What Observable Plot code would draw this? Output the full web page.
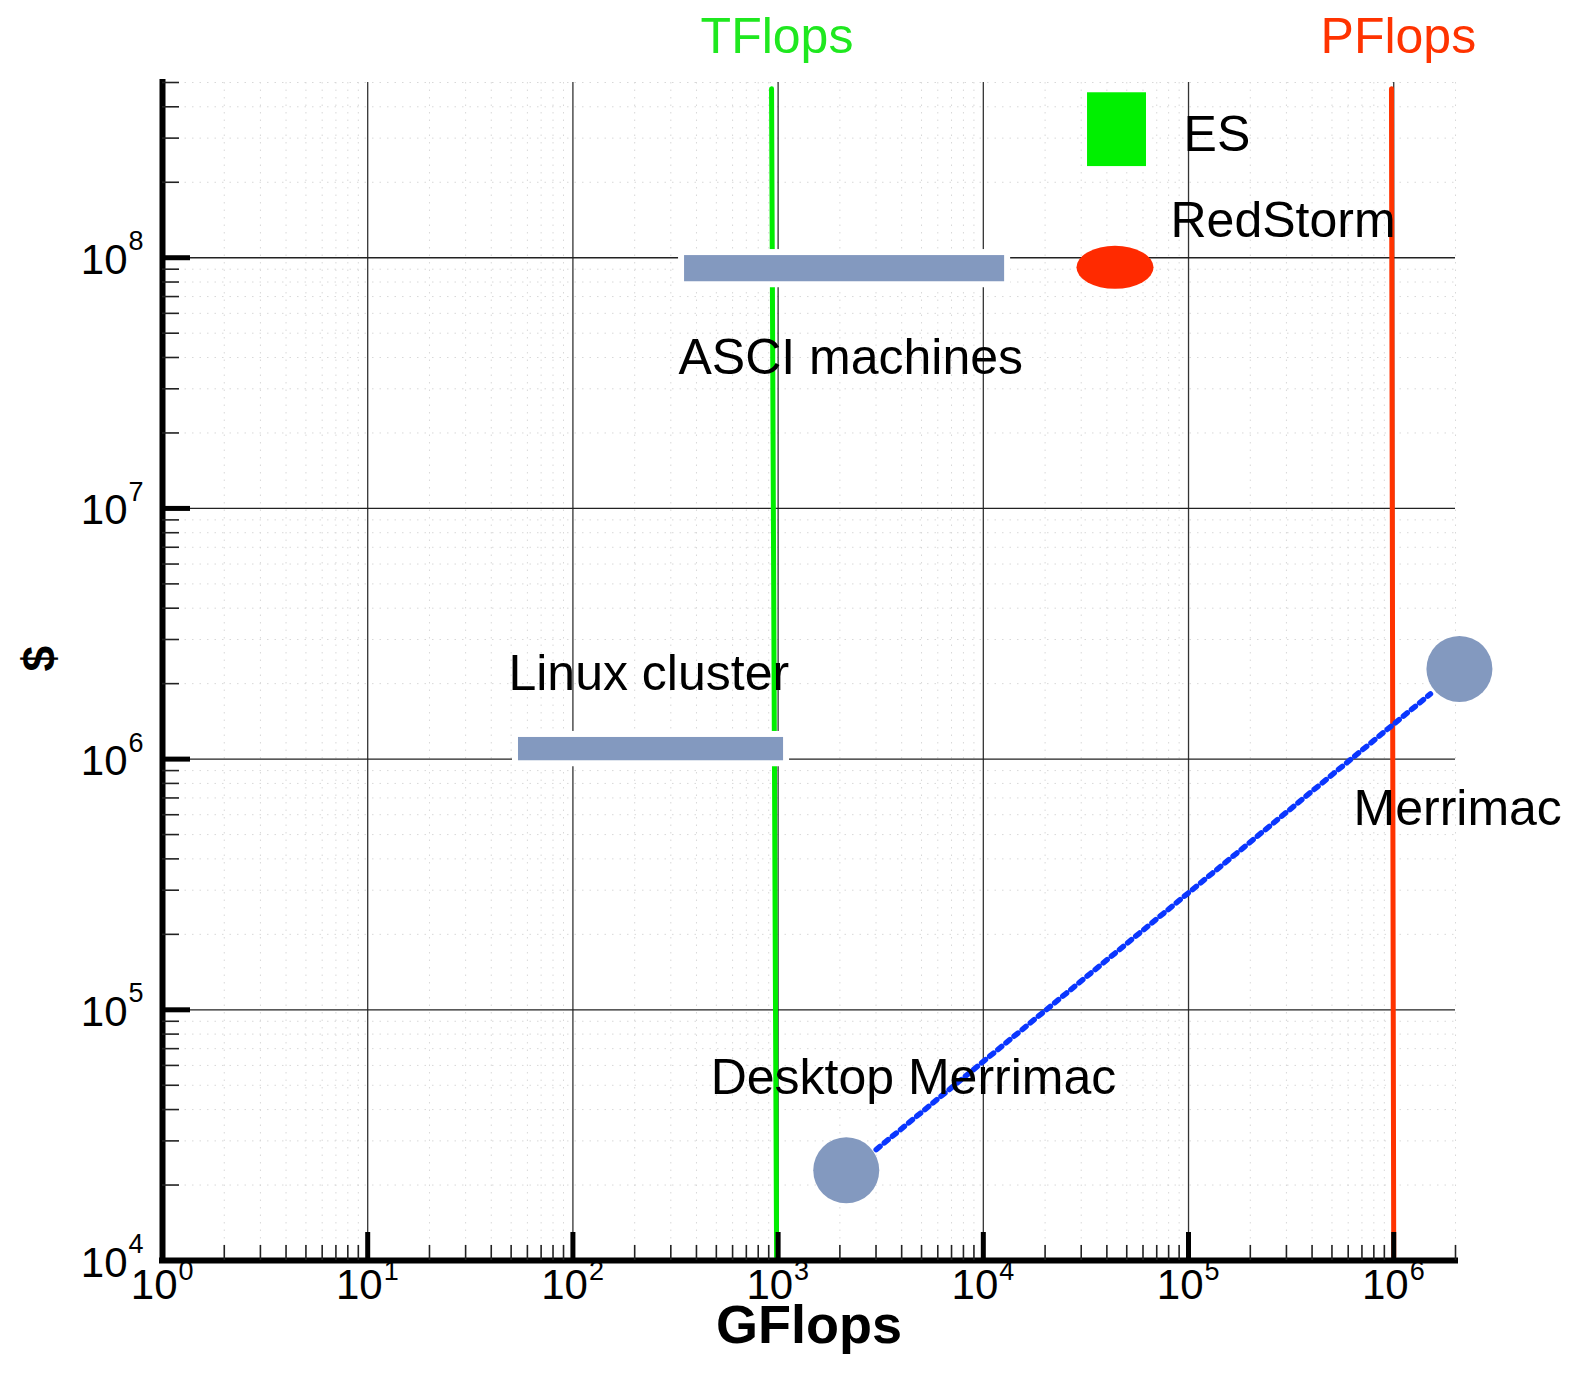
<!DOCTYPE html>
<html>
<head>
<meta charset="utf-8">
<script src="https://cdn.jsdelivr.net/npm/d3@7"></script>
<script src="https://cdn.jsdelivr.net/npm/@observablehq/plot@0.6"></script>
<style>
  html, body { margin: 0; padding: 0; background: white; }
  svg { display: block; }
</style>
</head>
<body>
<script>
// ---- Data ----
const xMajorTicks = [1, 10, 100, 1e3, 1e4, 1e5, 1e6];
const xTickExponents = ["0", "1", "2", "3", "4", "5", "6"];
const yMajorTicks = [1e4, 1e5, 1e6, 1e7, 1e8];
const yTickExponents = ["4", "5", "6", "7", "8"];
const minorMultipliers = [2, 3, 4, 5, 6, 7, 8, 9];

// TFlops / PFlops reference lines (GFlops, $)
const tflopsLine = [{gflops: 929, dollars: 4.72e8}, {gflops: 983, dollars: 1.03e4}];
const pflopsLine = [{gflops: 9.75e5, dollars: 4.72e8}, {gflops: 1.0e6, dollars: 1.03e4}];

// Range bars: ASCI machines, Linux cluster
const rangeBarNames = ["ASCI machines", "Linux cluster"];
const rangeBarGflopsLow = [350, 54.3];
const rangeBarGflopsHigh = [1.27e4, 1063];
const rangeBarDollarsLow = [8.02e7, 9.85e5];
const rangeBarDollarsHigh = [1.02e8, 1.22e6];

// ES (green box) and RedStorm (red ellipse)
const esBox = [{x1: 3.22e4, x2: 6.24e4, y1: 2.31e8, y2: 4.55e8}];
const redStorm = [{x1: 2.86e4, x2: 6.79e4, y1: 7.48e7, y2: 1.11e8}];

// Merrimac points and trend
const merrimacNames = ["Desktop Merrimac", "Merrimac"];
const merrimacGflops = [2148, 2.09e6];
const merrimacDollars = [2.29e4, 2.29e6];
const trendGflops = [3006, 1.51e6];
const trendDollars = [2.77e4, 1.82e6];

// Annotation labels
const labelText = ["TFlops", "PFlops", "ES", "RedStorm", "ASCI machines", "Linux cluster", "Merrimac", "Desktop Merrimac"];
const labelGflops = [419, 4.40e5, 9.46e4, 8.17e4, 327, 48.5, 6.37e5, 469];
const labelDollars = [7.61e8, 7.61e8, 3.09e8, 1.396e8, 3.99e7, 2.18e6, 6.32e5, 5.37e4];
const labelColor = ["#1fe81f", "#ff3300", "black", "black", "black", "black", "black", "black"];

// ---- Build tables ----
const xMinorTicks = [];
for (const d of xMajorTicks) for (const m of minorMultipliers) if (d * m <= 2e6) xMinorTicks.push(d * m);
const yMinorTicks = [];
for (const d of yMajorTicks) for (const m of minorMultipliers) if (d * m <= 5e8) yMinorTicks.push(d * m);

const rangeBars = rangeBarNames.map((name, i) => ({name, x1: rangeBarGflopsLow[i], x2: rangeBarGflopsHigh[i], y1: rangeBarDollarsLow[i], y2: rangeBarDollarsHigh[i]}));
const merrimacPoints = merrimacNames.map((name, i) => ({name, gflops: merrimacGflops[i], dollars: merrimacDollars[i]}));
const merrimacTrend = trendGflops.map((g, i) => ({gflops: g, dollars: trendDollars[i]}));
const labels = labelText.map((t, i) => ({text: t, gflops: labelGflops[i], dollars: labelDollars[i], color: labelColor[i]}));

const W = 1572, H = 1374;
const mL = 162, mR = 117, mT = 82, mB = 114;
const plotW = W - mL - mR, plotH = H - mT - mB;
const tickFont = "Helvetica, Arial, 'Liberation Sans', sans-serif";
const noteFont = "'Comic Sans MS', 'Liberation Sans', sans-serif";
const barColor = "#8399bf";

const chart = Plot.plot({
  width: W,
  height: H,
  marginLeft: mL,
  marginRight: mR,
  marginTop: mT,
  marginBottom: mB,
  x: {type: "log", domain: [1, 2e6], axis: null},
  y: {type: "log", domain: [1e4, 5e8], axis: null},
  style: {background: "white"},
  marks: [
    // faint dotted minor grid
    Plot.ruleX(xMinorTicks, {stroke: "#d8d8d8", strokeWidth: 1, strokeDasharray: "1.5,6"}),
    Plot.ruleY(yMinorTicks, {stroke: "#d8d8d8", strokeWidth: 1, strokeDasharray: "1.5,6"}),
    // major grid
    Plot.ruleX(xMajorTicks.slice(1), {stroke: "#333", strokeWidth: 1.3}),
    Plot.ruleY(yMajorTicks.slice(1), {stroke: "#222", strokeWidth: 1.3}),
    // TFlops / PFlops lines
    Plot.line(tflopsLine, {x: "gflops", y: "dollars", stroke: "#00ee00", strokeWidth: 5}),
    Plot.line(pflopsLine, {x: "gflops", y: "dollars", stroke: "#ff3300", strokeWidth: 5}),
    // range bars with white halo
    Plot.rect(rangeBars, {x1: "x1", x2: "x2", y1: "y1", y2: "y2", fill: "white", stroke: "white", strokeWidth: 12}),
    Plot.rect(rangeBars, {x1: "x1", x2: "x2", y1: "y1", y2: "y2", fill: barColor}),
    // ES box
    Plot.rect(esBox, {x1: "x1", x2: "x2", y1: "y1", y2: "y2", fill: "#00f000"}),
    // RedStorm ellipse
    Plot.rect(redStorm, {x1: "x1", x2: "x2", y1: "y1", y2: "y2", fill: "#ff2a00", rx: 200, ry: 200}),
    // Merrimac trend
    Plot.line(merrimacTrend, {x: "gflops", y: "dollars", stroke: "#0a36ff", strokeWidth: 5.5, strokeDasharray: "5,5.5"}),
    Plot.dot(merrimacPoints, {x: "gflops", y: "dollars", r: 33, fill: barColor}),
    // axis lines
    Plot.ruleX([1], {stroke: "black", strokeWidth: 6, insetTop: -3, insetBottom: -3}),
    Plot.ruleY([1e4], {stroke: "black", strokeWidth: 6, insetLeft: -3, insetRight: -3}),
    // inward ticks
    Plot.ruleX(xMajorTicks, {stroke: "black", strokeWidth: 5, insetTop: plotH - 28}),
    Plot.ruleX(xMinorTicks, {stroke: "#222", strokeWidth: 1.6, insetTop: plotH - 15}),
    Plot.ruleY(yMajorTicks, {stroke: "black", strokeWidth: 5, insetRight: plotW - 28}),
    Plot.ruleY(yMinorTicks, {stroke: "#222", strokeWidth: 1.6, insetRight: plotW - 17}),
    // x tick labels
    Plot.text(xMajorTicks, {x: d => d, frameAnchor: "bottom", text: () => "10", textAnchor: "end", dx: 15, dy: 38.6, fontSize: 42, fontFamily: tickFont, fill: "black"}),
    Plot.text(xMajorTicks, {x: d => d, frameAnchor: "bottom", text: (d, i) => xTickExponents[i], textAnchor: "start", dx: 16, dy: 19, fontSize: 27, fontFamily: tickFont, fill: "black"}),
    // y tick labels
    Plot.text(yMajorTicks, {y: d => d, frameAnchor: "left", text: () => "10", textAnchor: "end", dx: -35, dy: 2.6, fontSize: 42, fontFamily: tickFont, fill: "black"}),
    Plot.text(yMajorTicks, {y: d => d, frameAnchor: "left", text: (d, i) => yTickExponents[i], textAnchor: "start", dx: -34, dy: -16, fontSize: 27, fontFamily: tickFont, fill: "black"}),
    // axis titles
    Plot.text(["GFlops"], {frameAnchor: "bottom", dy: 82.7, fontSize: 54, fontWeight: "bold", fontFamily: tickFont, fill: "black"}),
    Plot.text(["$"], {frameAnchor: "left", dx: -122, rotate: -90, fontSize: 46, fontWeight: "bold", fontFamily: tickFont, fill: "black"}),
    // annotations
    Plot.text(labels, {x: "gflops", y: "dollars", text: "text", fill: "color", textAnchor: "start", fontSize: 50, fontFamily: noteFont})
  ]
});

document.body.appendChild(chart);
</script>
</body>
</html>
